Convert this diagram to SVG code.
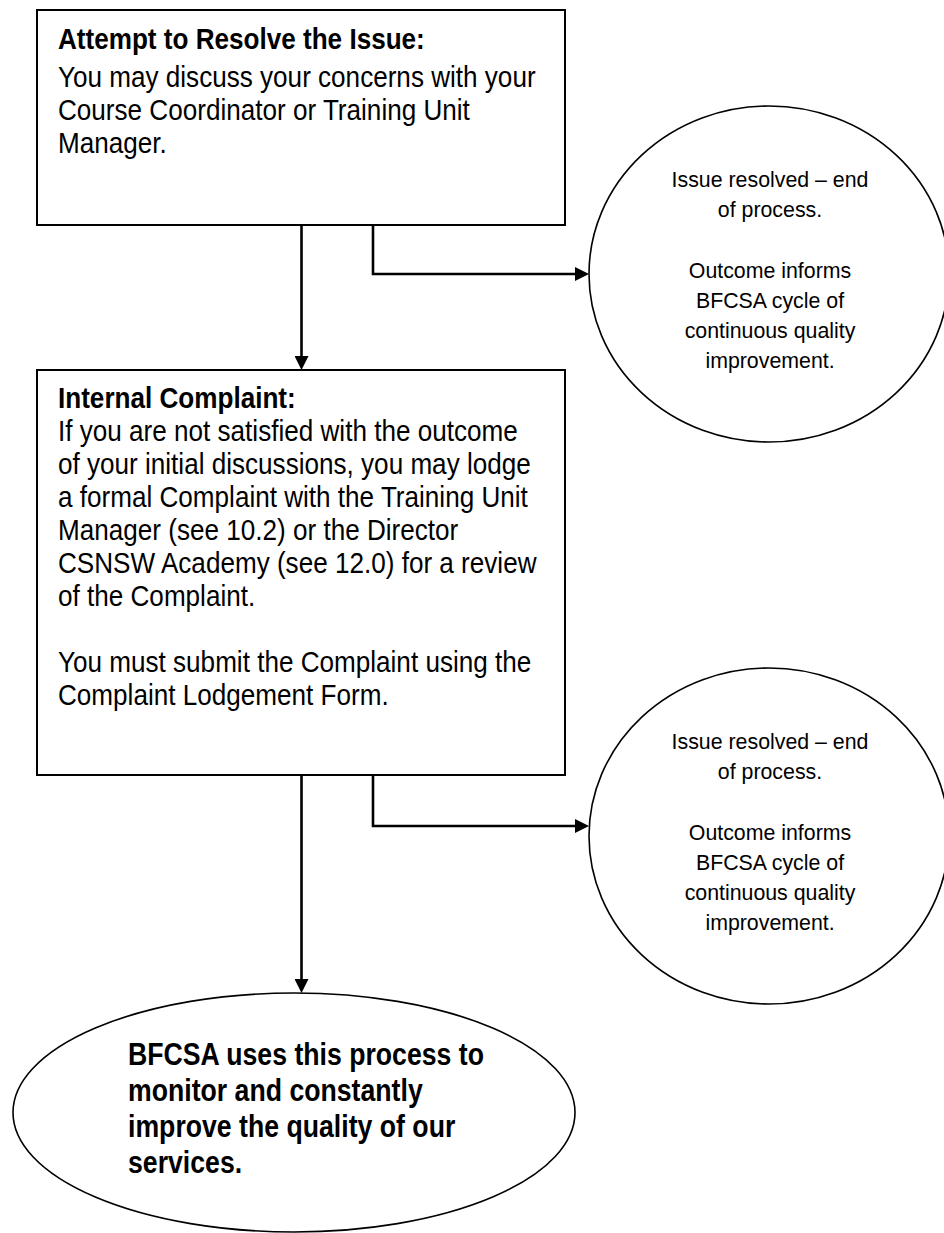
<svg xmlns="http://www.w3.org/2000/svg" width="944" height="1233" viewBox="0 0 944 1233">
<defs>
<marker id="arr" viewBox="0 0 14 14" refX="6" refY="7" markerWidth="14" markerHeight="14" markerUnits="userSpaceOnUse" orient="auto">
<path d="M0,0 L14,7 L0,14 z" fill="#000"/>
</marker>
<style>
.box{fill:#fff;stroke:#000;stroke-width:2}
.oval{fill:#fff;stroke:#000;stroke-width:1.6}
.conn{fill:none;stroke:#000;stroke-width:2.6}
text{font-family:"Liberation Sans",Arial,sans-serif;fill:#000}
.t{font-size:29px}
.b{font-size:29px;font-weight:bold}
.c{font-size:22px;text-anchor:middle}
.e{font-size:31px;font-weight:bold}
</style>
</defs>
<rect width="944" height="1233" fill="#fff"/>
<g id="connectors">
<path class="conn" d="M301.5,225 V362" marker-end="url(#arr)"/>
<path class="conn" d="M373,225 V274 H581" marker-end="url(#arr)"/>
<path class="conn" d="M301.5,775 V985" marker-end="url(#arr)"/>
<path class="conn" d="M373,775 V826 H581" marker-end="url(#arr)"/>
</g>
<g id="box1">
<rect class="box" x="37" y="10" width="528" height="215"/>
<g transform="translate(58,0) scale(0.9,1)">
<text class="b" x="0" y="49">Attempt to Resolve the Issue:</text>
<text class="t" x="0" y="87">You may discuss your concerns with your</text>
<text class="t" x="0" y="120">Course Coordinator or Training Unit</text>
<text class="t" x="0" y="153">Manager.</text>
</g>
</g>
<g id="circle1">
<ellipse class="oval" cx="769" cy="274" rx="180" ry="168"/>
<g transform="translate(770,0) scale(0.97,1)">
<text class="c" x="0" y="187">Issue resolved – end</text>
<text class="c" x="0" y="217">of process.</text>
<text class="c" x="0" y="278">Outcome informs</text>
<text class="c" x="0" y="308">BFCSA cycle of</text>
<text class="c" x="0" y="338">continuous quality</text>
<text class="c" x="0" y="368">improvement.</text>
</g>
</g>
<g id="box2">
<rect class="box" x="37" y="370" width="528" height="405"/>
<g transform="translate(58,0) scale(0.9,1)">
<text class="b" x="0" y="408">Internal Complaint:</text>
<text class="t" x="0" y="441">If you are not satisfied with the outcome</text>
<text class="t" x="0" y="474">of your initial discussions, you may lodge</text>
<text class="t" x="0" y="507">a formal Complaint with the Training Unit</text>
<text class="t" x="0" y="540">Manager (see 10.2) or the Director</text>
<text class="t" x="0" y="573">CSNSW Academy (see 12.0) for a review</text>
<text class="t" x="0" y="606">of the Complaint.</text>
<text class="t" x="0" y="672">You must submit the Complaint using the</text>
<text class="t" x="0" y="705">Complaint Lodgement Form.</text>
</g>
</g>
<g id="circle2">
<ellipse class="oval" cx="769" cy="836" rx="180" ry="168"/>
<g transform="translate(770,0) scale(0.97,1)">
<text class="c" x="0" y="749">Issue resolved – end</text>
<text class="c" x="0" y="779">of process.</text>
<text class="c" x="0" y="840">Outcome informs</text>
<text class="c" x="0" y="870">BFCSA cycle of</text>
<text class="c" x="0" y="900">continuous quality</text>
<text class="c" x="0" y="930">improvement.</text>
</g>
</g>
<g id="ellipse3">
<ellipse class="oval" cx="294" cy="1112.5" rx="281" ry="119.5"/>
<g transform="translate(128,0) scale(0.86,1)">
<text class="e" x="0" y="1065">BFCSA uses this process to</text>
<text class="e" x="0" y="1101">monitor and constantly</text>
<text class="e" x="0" y="1137">improve the quality of our</text>
<text class="e" x="0" y="1173">services.</text>
</g>
</g>
</svg>
